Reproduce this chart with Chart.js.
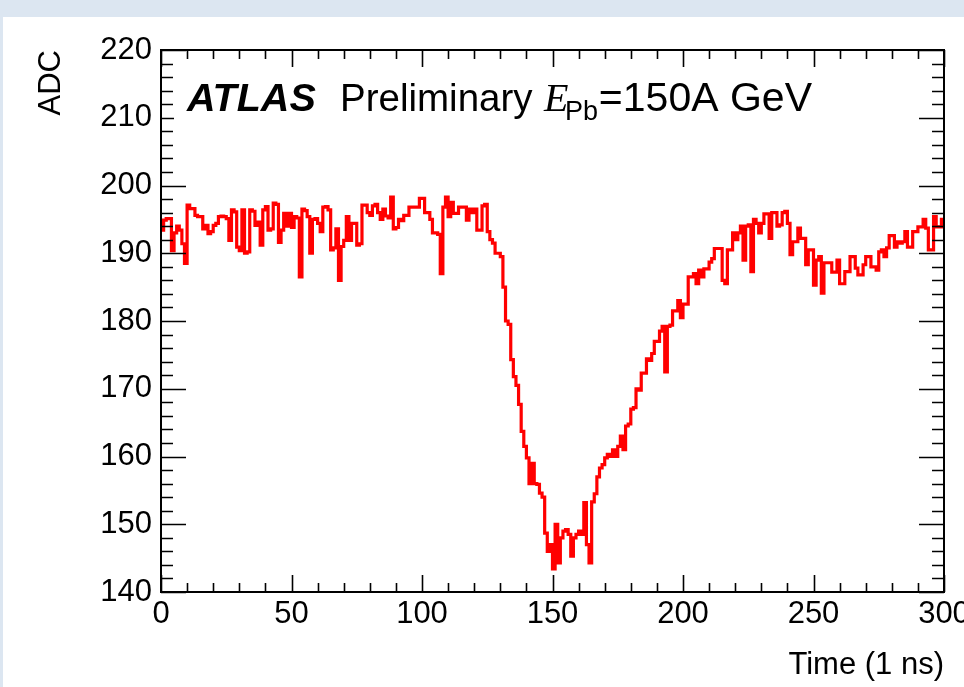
<!DOCTYPE html>
<html><head><meta charset="utf-8">
<script src="https://cdn.jsdelivr.net/npm/chart.js@4.4.1/dist/chart.umd.min.js"></script>
<style>
html,body{margin:0;padding:0;background:#dce6f1;width:964px;height:687px;overflow:hidden}
#wrap{position:absolute;left:3px;top:17px;width:961px;height:670px;background:#fff}
canvas{display:block}
</style></head><body>
<div id="wrap"><canvas id="c" width="961" height="670"></canvas></div>
<script>
// ADC value of each 1 ns bin, t = 0 .. 299
const adcValues = [
  193.4,194.9,195.1,195.1,190.4,193.0,194.0,193.4,191.4,188.5,
  197.1,196.6,196.6,195.6,195.4,195.4,193.6,194.1,192.9,193.2,
  194.1,194.4,195.4,195.5,195.4,195.1,191.9,196.4,196.1,190.9,
  190.4,196.4,190.0,190.2,196.4,196.2,194.1,194.6,191.2,196.4,
  196.9,193.4,193.6,197.4,197.2,191.6,193.4,195.9,194.0,195.9,
  193.8,195.4,195.2,186.5,196.5,196.3,195.4,190.0,195.0,195.1,
  194.4,193.2,196.8,196.9,196.4,190.5,190.8,193.6,186.0,191.0,
  191.9,195.4,191.9,194.4,194.4,191.2,191.4,197.1,197.1,196.0,
  195.6,197.0,197.2,196.0,195.0,196.5,195.5,195.2,198.3,193.6,
  193.8,195.0,194.8,195.6,195.6,196.8,196.8,196.8,196.8,198.1,
  198.1,196.0,196.0,195.0,193.0,193.0,192.8,187.0,196.8,198.3,
  195.4,197.5,195.9,195.9,196.8,196.8,196.8,194.9,196.5,196.0,
  196.5,193.4,193.4,197.0,197.2,193.2,192.0,191.5,190.0,190.0,
  189.5,185.0,180.0,179.5,174.3,171.8,170.5,167.7,163.7,161.5,
  159.8,156.0,159.0,156.0,155.9,154.6,154.0,148.7,146.0,147.0,
  143.4,150.0,144.3,148.0,149.0,149.2,148.5,145.3,148.0,148.5,
  149.0,148.5,153.2,147.0,144.3,153.3,154.5,157.0,158.3,158.8,
  159.8,160.3,160.0,161.0,160.0,161.5,163.0,161.0,164.5,164.8,
  167.0,167.2,170.0,169.8,172.3,172.3,174.4,174.2,175.2,177.0,
  177.0,178.5,179.2,172.5,179.2,179.4,181.5,181.5,183.0,180.5,
  182.5,182.5,186.5,186.5,187.0,185.5,187.5,186.5,187.7,187.7,
  188.7,189.2,190.7,190.7,190.7,186.0,185.5,190.5,190.5,193.0,
  192.0,193.0,194.0,189.0,194.0,194.2,187.3,195.0,194.4,193.0,
  194.4,195.8,195.8,192.2,196.0,196.0,194.0,194.2,196.0,196.2,
  194.4,189.8,191.7,191.7,193.7,192.2,192.2,188.3,190.5,190.5,
  185.3,189.0,189.5,184.1,188.6,188.6,188.6,187.2,187.2,189.0,
  185.5,185.5,187.3,187.3,189.5,189.5,187.8,186.8,186.8,188.3,
  189.5,189.5,188.0,188.0,187.5,190.2,190.5,189.5,190.8,192.6,
  192.6,190.9,191.7,191.5,191.7,193.2,190.9,190.9,193.2,193.2,
  193.9,193.9,195.0,193.7,190.5,190.5,195.4,193.9,193.9,195.0
];
const binStart = 0;      // ns
const binWidth = 1;      // ns
const xTickValues = [0, 50, 100, 150, 200, 250, 300];
const yTickValues = [140, 150, 160, 170, 180, 190, 200, 210, 220];
const xTitle = 'Time (1 ns)';
const yTitle = 'ADC';
const labelAtlas = 'ATLAS';
const labelPrelim = 'Preliminary';
const labelBeam = ['E', 'Pb', '=150A GeV'];

// histogram points at bin left edges, plus closing edge
const points = adcValues.map((v, i) => ({x: binStart + i * binWidth, y: v}));
points.push({x: binStart + adcValues.length * binWidth, y: adcValues[adcValues.length - 1]});

const FONT = '"Liberation Sans", Arial, Helvetica, sans-serif';

const framePlugin = {
  id: 'rootFrame',
  afterDatasetsDraw(chart) {
    const {ctx, chartArea: ca, scales: {x: xs, y: ys}} = chart;
    ctx.save();
    ctx.strokeStyle = '#000';
    ctx.lineWidth = 1.6;
    ctx.beginPath();
    // y ticks (major every 10, minor every 2), both sides, inside
    for (let v = ys.min; v <= ys.max + 1e-9; v += 2) {
      const y = Math.round(ys.getPixelForValue(v)) + 0.5;
      const L = (Math.round(v) % 10 === 0) ? 25 : 12;
      ctx.moveTo(ca.left, y); ctx.lineTo(ca.left + L, y);
      ctx.moveTo(ca.right, y); ctx.lineTo(ca.right - L, y);
    }
    // x ticks (major every 50, minor every 10), bottom and top, inside
    for (let v = xs.min; v <= xs.max + 1e-9; v += 10) {
      const x = Math.round(xs.getPixelForValue(v)) + 0.5;
      const L = (Math.round(v) % 50 === 0) ? 17 : 9;
      ctx.moveTo(x, ca.bottom); ctx.lineTo(x, ca.bottom - L);
      ctx.moveTo(x, ca.top); ctx.lineTo(x, ca.top + L);
    }
    ctx.stroke();
    ctx.lineWidth = 2;
    ctx.strokeRect(ca.left, ca.top, ca.right - ca.left, ca.bottom - ca.top);

    // label box (white), as in ROOT TLatex with filled box
    ctx.fillStyle = '#fff';
    ctx.fillRect(ca.left + 13, 56, 640, 52);

    // texts
    ctx.fillStyle = '#000';
    ctx.textAlign = 'left';
    ctx.textBaseline = 'alphabetic';
    const base = 94;
    ctx.font = 'italic bold 39.5px ' + FONT;
    ctx.fillText(labelAtlas, 184, base);
    ctx.font = '38.5px ' + FONT;
    ctx.fillText(labelPrelim, 337, base);
    ctx.font = 'italic 40px "Liberation Serif", "Times New Roman", serif';
    ctx.fillText(labelBeam[0], 541, base);
    ctx.font = '27px ' + FONT;
    ctx.fillText(labelBeam[1], 562, base + 9);
    ctx.font = '41px ' + FONT;
    ctx.textAlign = 'right';
    ctx.fillText(labelBeam[2], 809, base);
    ctx.restore();
  }
};

new Chart(document.getElementById('c'), {
  type: 'line',
  data: {
    datasets: [{
      data: points,
      stepped: true,
      borderColor: '#ff0000',
      borderWidth: 3.2,
      pointRadius: 0,
      fill: false,
      tension: 0
    }]
  },
  options: {
    responsive: false,
    animation: false,
    events: [],
    layout: {padding: {left: 0, top: 33, right: 20, bottom: 0}},
    plugins: {legend: {display: false}, tooltip: {enabled: false}},
    scales: {
      x: {
        type: 'linear', min: 0, max: 300,
        grid: {display: false, drawTicks: false},
        border: {display: false},
        ticks: {autoSkip: false, maxRotation: 0, padding: 4, color: '#000',
                font: {family: FONT, size: 31}},
        afterBuildTicks: s => { s.ticks = xTickValues.map(v => ({value: v})); },
        afterFit: s => { s.height = 95; s.paddingLeft = 0; s.paddingRight = 0; },
        title: {display: true, text: xTitle, align: 'end', color: '#000',
                font: {family: FONT, size: 31}, padding: {top: 0, bottom: 3}}
      },
      y: {
        type: 'linear', min: 140, max: 220,
        grid: {display: false, drawTicks: false},
        border: {display: false},
        ticks: {autoSkip: false, padding: 9, color: '#000',
                font: {family: FONT, size: 31}},
        afterBuildTicks: s => { s.ticks = yTickValues.map(v => ({value: v})); },
        afterFit: s => { s.width = 158; s.paddingTop = 0; s.paddingBottom = 0; },
        title: {display: true, text: yTitle, align: 'end', color: '#000',
                font: {family: FONT, size: 31}, padding: {top: 30, bottom: 0}}
      }
    }
  },
  plugins: [framePlugin]
});
</script>
</body></html>
